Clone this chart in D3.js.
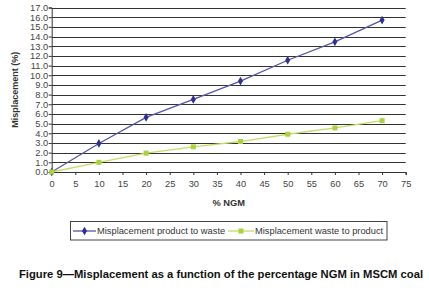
<!DOCTYPE html>
<html><head><meta charset="utf-8">
<script src="https://cdn.jsdelivr.net/npm/d3@7"></script>
<style>body{margin:0;background:#fff}svg{display:block}</style>
</head><body>
<svg id="c" width="429" height="292"></svg>
<script>
const ngm = [0, 10, 20, 30, 40, 50, 60, 70];
const productToWaste = [0, 2.95, 5.65, 7.5, 9.4, 11.55, 13.45, 15.7];
const wasteToProduct = [0, 1.0, 1.95, 2.6, 3.15, 3.9, 4.55, 5.3];
const xTicks = d3.range(0, 76, 5);
const yTicks = d3.range(0, 17.01, 1);
const seriesNames = ["Misplacement product to waste", "Misplacement waste to product"];

const svg = d3.select("#c");
const x = d3.scaleLinear().domain([0, 75]).range([51.7, 405.7]);
const y = d3.scaleLinear().domain([0, 17]).range([172, 7.5]);
const font = "Liberation Sans, Arial, sans-serif";
const fs = 9.3;

// gridlines
svg.append("g").selectAll("line").data(yTicks.slice(1)).join("line")
  .attr("x1", x(0)).attr("x2", x(75))
  .attr("y1", d => Math.round(y(d)) + 0.5).attr("y2", d => Math.round(y(d)) + 0.5)
  .attr("stroke", "#333").attr("stroke-width", 1);

// y axis
const ya = svg.append("g").attr("transform", `translate(${x(0)},0)`)
  .call(d3.axisLeft(y).tickValues(yTicks).tickFormat(d3.format(".1f")).tickSize(3));
ya.select(".domain").attr("stroke", "#333");
ya.selectAll(".tick line").attr("stroke", "#333");
ya.selectAll("text").attr("font-family", font).attr("font-size", fs).attr("fill", "#444").attr("x", -3.5);

// x axis
const xa = svg.append("g").attr("transform", `translate(0,${y(0)})`)
  .call(d3.axisBottom(x).tickValues(xTicks).tickSize(3));
xa.select(".domain").attr("stroke", "#333");
xa.selectAll(".tick line").attr("stroke", "#333");
xa.selectAll("text").attr("font-family", font).attr("font-size", fs).attr("fill", "#444").attr("y", 8);

// axis titles
svg.append("text").attr("x", x(37.5)).attr("y", 206).attr("text-anchor", "middle")
  .attr("font-family", font).attr("font-size", fs).attr("font-weight", "bold").attr("fill", "#333").text("% NGM");
svg.append("text").attr("transform", `translate(18,${y(8.5)}) rotate(-90)`).attr("text-anchor", "middle")
  .attr("font-family", font).attr("font-size", 9).attr("font-weight", "bold").attr("fill", "#333").text("Misplacement (%)");

const colors = ["#5457a8", "#c3dc6a"];
const markerColors = ["#2d3192", "#a9d23c"];
const data = [productToWaste, wasteToProduct];
const line = d3.line().x((d, i) => x(ngm[i])).y(d => y(d));

data.forEach((vals, k) => {
  svg.append("path").datum(vals).attr("d", line).attr("fill", "none")
    .attr("stroke", colors[k]).attr("stroke-width", 1.3);
  const g = svg.append("g");
  if (k === 0) {
    g.selectAll("path").data(vals).join("path")
      .attr("d", d3.symbol(d3.symbolDiamond, 22))
      .attr("transform", (d, i) => `translate(${x(ngm[i])},${y(d)})`)
      .attr("fill", markerColors[k]);
  } else {
    g.selectAll("rect").data(vals).join("rect")
      .attr("x", (d, i) => x(ngm[i]) - 2.5).attr("y", d => y(d) - 2.5)
      .attr("width", 5).attr("height", 5).attr("fill", markerColors[k]);
  }
});

// legend
const lg = svg.append("g");
lg.append("rect").attr("x", 70.5).attr("y", 221.5).attr("width", 316.5).attr("height", 18.5)
  .attr("fill", "#fff").attr("stroke", "#444").attr("stroke-width", 1);
const legendPos = [[73, 97], [228, 255]];
seriesNames.forEach((n, k) => {
  const [lx, tx] = legendPos[k];
  lg.append("line").attr("x1", lx).attr("x2", tx - 1).attr("y1", 231).attr("y2", 231)
    .attr("stroke", colors[k]).attr("stroke-width", 1.3);
  const mx = (lx + tx - 1) / 2;
  if (k === 0) {
    lg.append("path").attr("d", d3.symbol(d3.symbolDiamond, 22)).attr("transform", `translate(${mx},231)`).attr("fill", markerColors[k]);
  } else {
    lg.append("rect").attr("x", mx - 2.5).attr("y", 228.5).attr("width", 5).attr("height", 5).attr("fill", markerColors[k]);
  }
  lg.append("text").attr("x", tx).attr("y", 234.3).attr("font-family", font).attr("font-size", 9.3)
    .attr("fill", "#333").text(n);
});

// caption
svg.append("text").attr("x", 19).attr("y", 278).attr("font-family", font).attr("font-size", 11)
  .attr("font-weight", "bold").attr("fill", "#111")
  .attr("textLength", 404).attr("lengthAdjust", "spacingAndGlyphs")
  .text("Figure 9\u2014Misplacement as a function of the percentage NGM in MSCM coal");
</script>
</body></html>
